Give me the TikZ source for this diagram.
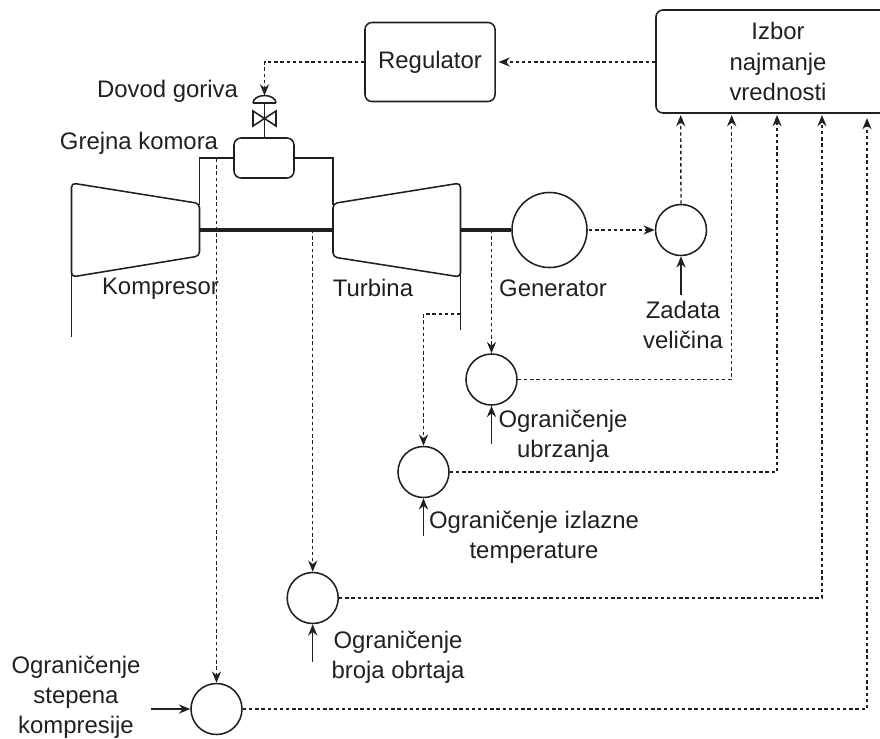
\documentclass[tikz,border=0pt]{standalone}
\usepackage{fontspec}
\setmainfont{Liberation Sans}
\usetikzlibrary{arrows.meta}
\definecolor{ink}{HTML}{231F20}
\tikzset{
	x=0.025cm, y=-0.025cm,
	every node/.style={font=\fontsize{17}{21.5}\selectfont, text=ink, align=center, inner sep=0pt},
	line/.style={draw=ink, line width=1.1pt},
	shaft/.style={draw=ink, line width=2.6pt},
	signal/.style={draw=ink, line width=1pt, dash pattern=on 2.4pt off 2pt, -{Stealth[length=8pt,width=6.5pt]}},
	input/.style={line, -{Stealth[length=8pt,width=6.5pt]}},
	sumnode/.style={circle, line, minimum size=1.275cm},
	ctrlbox/.style={rectangle, line, rounded corners=5pt},
}
\begin{document}
\begin{tikzpicture}
	\useasboundingbox (0,0) rectangle (880,738);

	% Blokovi
	\node[ctrlbox, minimum width=6.1cm, minimum height=2.575cm] (izbor) at (778,61.5) {Izbor\\najmanje\\vrednosti};
	\node[ctrlbox, minimum width=3.25cm, minimum height=1.975cm] (regulator) at (430,62) {\raisebox{1pt}{Regulator}};
	\node[ctrlbox, minimum width=1.5cm, minimum height=1cm] (komora) at (264,158) {};
	\node[sumnode, minimum size=1.875cm] (gen) at (549.5,230) {};

	% Sabiraci
	\node[sumnode] (s1) at (681,230) {};
	\node[sumnode] (s2) at (491.5,379.5) {};
	\node[sumnode] (s3) at (423.5,472) {};
	\node[sumnode] (s4) at (312.7,598) {};
	\node[sumnode] (s5) at (216.5,709) {};

	% Kompresor i turbina
	\draw[line, rounded corners=3pt] (71.5,183) -- (199.5,203.5) -- (199.5,256) -- (71.5,277) -- cycle;
	\draw[line, rounded corners=3pt] (333,203.5) -- (460.5,183) -- (460.5,277) -- (333,257) -- cycle;
	\coordinate (kin) at (71.5,270);
	\coordinate (kend) at (71.5,337);
	\coordinate (tin) at (460.5,270);
	\coordinate (tend) at (460.5,330);
	\draw[line] (kin) -- (kend);
	\draw[line] (tin) -- (tend);

	% Cevi i vratila
	\coordinate (kout) at (199.5,205);
	\coordinate (tout) at (333,205);
	\coordinate (k1) at (199.5,230);
	\coordinate (t1) at (333,230);
	\coordinate (t2) at (460.5,230);
	\draw[line] (kout) |- (komora.west);
	\draw[line] (tout) |- (komora.east);
	\draw[shaft] (k1) -- (t1);
	\draw[shaft] (t2) -- (gen.west);

	% Ventil
	\coordinate (vgore) at (264.5,103);
	\coordinate (vlevo) at (253,103);
	\coordinate (vdesno) at (276,103);
	\coordinate (a) at (253,111);
	\coordinate (b) at (276,126);
	\coordinate (c) at (276,111);
	\coordinate (d) at (253,126);
	\coordinate (vvrh) at (264.5,95.5);
	\draw[line] (vgore) -- (vgore |- komora.north);
	\draw[line] (vlevo) -- (vdesno);
	\draw[line] (vlevo) arc[start angle=180, end angle=0, x radius=11.5, y radius=-7.5];
	\draw[line, fill=white] (a) -- (b) -- (c) -- (d) -- cycle;

	% Signali
	\draw[signal] (izbor.west |- regulator.east) -- ([xshift=2pt]regulator.east);
	\draw[signal] (regulator.west) -| (vvrh);
	\coordinate (gout) at (589,230);
	\draw[signal] (gout) -- (s1.west);
	\coordinate (i1) at (680.7,115);
	\coordinate (i2) at (731.7,115);
	\coordinate (i3) at (777,115);
	\coordinate (i4) at (822,115);
	\coordinate (i5) at (867,118);
	\draw[signal] (s1.north) -- (i1);
	\draw[signal] (s2.east) -| (i2);
	\draw[signal] (s3.east) -| (i3);
	\draw[signal] (s4.east) -| (i4);
	\draw[signal] (s5.east) -| (i5);
	\coordinate (t3) at (491.5,230);
	\coordinate (t4) at (460.5,314);
	\coordinate (k2) at (216.5,159);
	\coordinate (t5) at (312.7,230);
	\draw[signal] (t3) -- (s2.north);
	\draw[signal] (t4) -| (s3.north);
	\draw[signal] (t5) -- (s4.north);
	\draw[signal] (k2) -- (s5.north);

	% Zadate velicine
	\coordinate (z1) at (681,295);
	\coordinate (z2) at (491.5,444);
	\coordinate (z3) at (423.5,536);
	\coordinate (z4) at (312.7,662);
	\coordinate (z5) at (151,709);
	\draw[input] (z1) -- (s1.south);
	\draw[input] (z2) -- (s2.south);
	\draw[input] (z3) -- (s3.south);
	\draw[input] (z4) -- (s4.south);
	\draw[input] (z5) -- (s5.west);

	% Natpisi
	\node (dovod) at (167.5,91) {Dovod goriva};
	\node (grejna) at (139,143) {Grejna komora};
	\node (kompresor) at (160.5,289) {Kompresor};
	\node (turbina) at (373,288) {Turbina};
	\node (generator) at (553,288) {Generator};
	\node (zadata) at (683,325) {Zadata\\veličina};
	\node (ubrzanje) at (563,436) {Ograničenje\\ubrzanja};
	\node (izlazna) at (534,537.5) {Ograničenje izlazne\\temperature};
	\node (obrtaji) at (398,657) {Ograničenje\\broja obrtaja};
	\node (stepen) at (76,697) {Ograničenje\\stepena\\kompresije};
\end{tikzpicture}
\end{document}
